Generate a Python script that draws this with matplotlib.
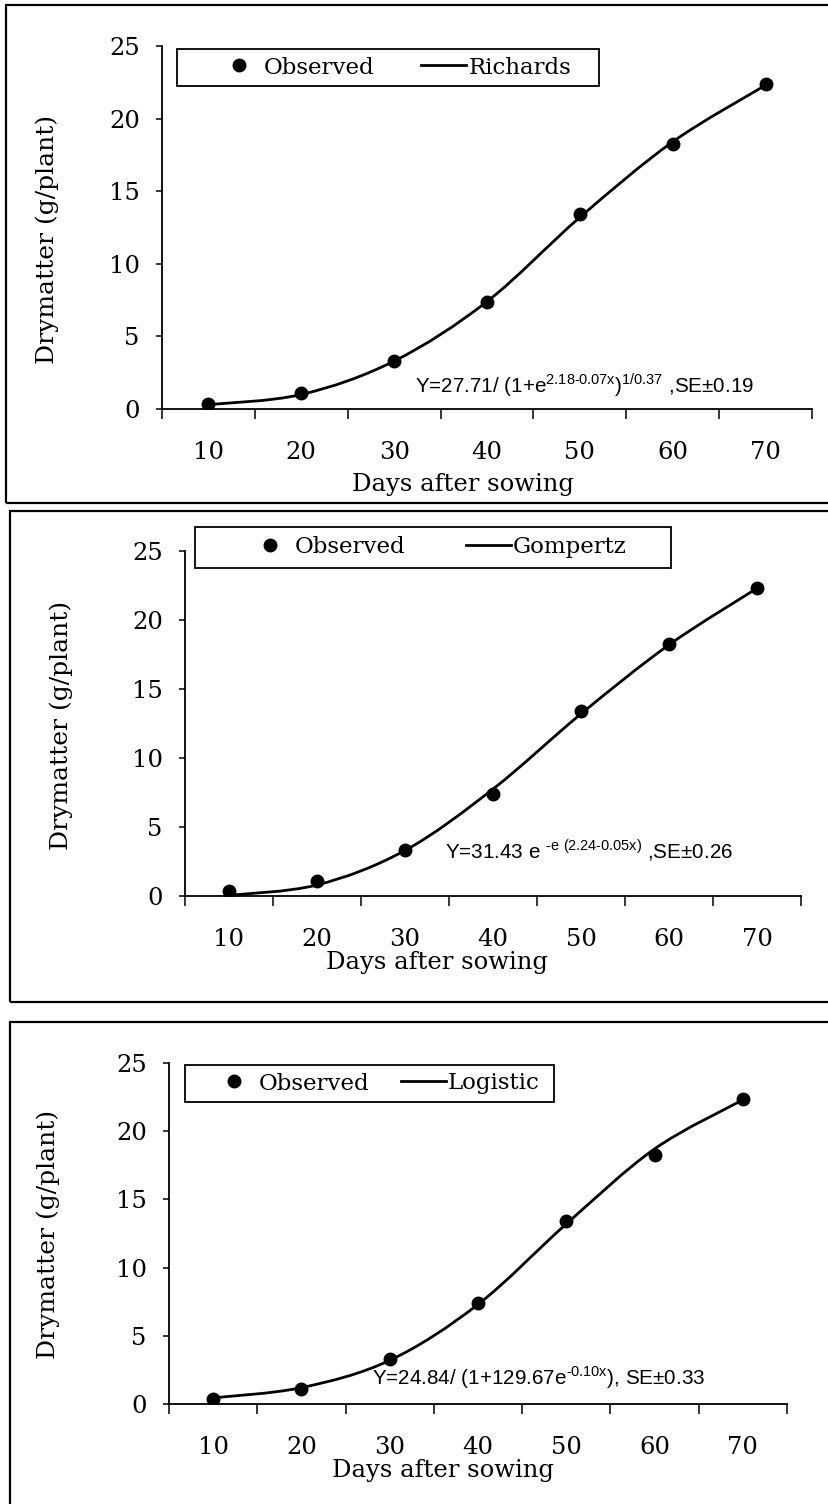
import matplotlib

matplotlib.use("Agg")
import matplotlib.pyplot as plt
from matplotlib.lines import Line2D
from matplotlib.patches import PathPatch, Rectangle
from matplotlib.path import Path

# data
days = [10, 20, 30, 40, 50, 60, 70]
observed = [0.35, 1.1, 3.3, 7.4, 13.4, 18.25, 22.35]
richards_fit = [0.3, 1.0, 3.3, 7.4, 13.2, 18.4, 22.3]
gompertz_fit = [0.05, 0.8, 3.3, 7.75, 13.2, 18.2, 22.3]
logistic_fit = [0.45, 1.2, 3.2, 7.3, 13.2, 18.7, 22.3]

model_names = ["Richards", "Gompertz", "Logistic"]
equations = [
    "Y=27.71/ (1+e$^{\\mathregular{2.18\u20100.07x}}$)$^{\\mathregular{1/ 0.37}}$ ,SE\u00b10.19",
    "Y=31.43 e $^{\\mathregular{\u2010e\\ (2.24\u20100.05x)}}$ ,SE\u00b10.26",
    "Y=24.84/ (1+129.67e$^{\\mathregular{\u20100.10x}}$), SE\u00b10.33",
]
fits = [richards_fit, gompertz_fit, logistic_fit]

W, H = 829, 1504
SERIF = ["DejaVu Serif"]
NARROW = ["Liberation Sans Narrow", "Liberation Sans", "DejaVu Sans"]

# pixel layout of each panel
layout = [
    dict(box=(6, 5, 900, 503), ax=(162, 812, 409, 46), leg=(177, 49, 599, 86),
         legx=(217, 571), eq=(415, 385), xlab=(463, 485), ylab=(47, 239)),
    dict(box=(10, 511, 900, 1002), ax=(185, 801, 896, 551), leg=(195, 527, 671, 568),
         legx=(248, 627), eq=(445, 850), xlab=(437, 963), ylab=(61, 725)),
    dict(box=(10, 1022, 900, 1600), ax=(169, 787, 1404, 1063), leg=(185, 1065, 554, 1102),
         legx=(212, 540), eq=(372, 1378), xlab=(443, 1470), ylab=(48, 1234)),
]


def fx(px):
    return px / W


def fy(py):
    return 1 - py / H


def smooth_path(xs, ys):
    # Catmull-Rom style cubic Bezier through the fitted values (Excel smoothing)
    pts = list(zip(xs, ys))
    verts = [pts[0]]
    codes = [Path.MOVETO]
    n = len(pts)
    for i in range(n - 1):
        p0 = pts[max(i - 1, 0)]
        p1 = pts[i]
        p2 = pts[i + 1]
        p3 = pts[min(i + 2, n - 1)]
        c1 = (p1[0] + (p2[0] - p0[0]) / 6, p1[1] + (p2[1] - p0[1]) / 6)
        c2 = (p2[0] - (p3[0] - p1[0]) / 6, p2[1] - (p3[1] - p1[1]) / 6)
        verts += [c1, c2, p2]
        codes += [Path.CURVE4] * 3
    return Path(verts, codes)


fig = plt.figure(figsize=(W / 100, H / 100), dpi=100)
pos = list(range(1, len(days) + 1))

for name, eq, fit, lay in zip(model_names, equations, fits, layout):
    bx0, by0, bx1, by1 = lay["box"]
    fig.patches.append(Rectangle((fx(bx0), fy(by1)), fx(bx1 - bx0), (by1 - by0) / H,
                                 transform=fig.transFigure, fill=False,
                                 edgecolor="black", lw=1.6, zorder=0))

    l, r, b, t = lay["ax"]
    ax = fig.add_axes([fx(l), fy(b), fx(r - l), (b - t) / H])
    ax.patch.set_alpha(0)

    ax.plot(pos, observed, "o", color="black", ms=9, zorder=3)
    ax.add_patch(PathPatch(smooth_path(pos, fit), fill=False, edgecolor="black",
                           lw=2.0, zorder=2))

    ax.set_xlim(0.5, len(days) + 0.5)
    ax.set_ylim(0, 25)
    for s in ("top", "right"):
        ax.spines[s].set_visible(False)
    for s in ("left", "bottom"):
        ax.spines[s].set_linewidth(1.3)

    ax.set_yticks([0, 5, 10, 15, 20, 25])
    ax.tick_params(axis="y", direction="out", length=4, width=1.1, pad=12,
                   labelsize=17.5)
    ax.set_xticks([p - 0.5 for p in pos] + [len(days) + 0.5])
    ax.set_xticklabels([])
    ax.tick_params(axis="x", which="major", direction="out", length=7, width=1.1)
    ax.set_xticks(pos, minor=True)
    ax.set_xticklabels([str(d) for d in days], minor=True)
    ax.tick_params(axis="x", which="minor", length=0, pad=23, labelsize=17.5)
    for lab in ax.get_xticklabels(minor=True) + ax.get_yticklabels():
        lab.set_family(SERIF)

    ax.set_xlabel("Days after sowing", family=SERIF, fontsize=17.5)
    ax.set_ylabel("Drymatter (g/plant)", family=SERIF, fontsize=18)
    xlx, xly = lay["xlab"]
    ax.xaxis.set_label_coords((xlx - l) / (r - l), (b - xly) / (b - t))
    ax.xaxis.label.set_va("center")
    ylx, yly = lay["ylab"]
    ax.yaxis.set_label_coords((ylx - l) / (r - l), (b - yly) / (b - t))
    ax.yaxis.label.set_va("center")

    # legend: frame drawn separately, entries spread across it
    lx0, ly0, lx1, ly1 = lay["leg"]
    fig.patches.append(Rectangle((fx(lx0), fy(ly1)), fx(lx1 - lx0), (ly1 - ly0) / H,
                                 transform=fig.transFigure, facecolor="white",
                                 edgecolor="black", lw=1.3, zorder=1))
    hx0, hx1 = lay["legx"]
    handles = [Line2D([], [], ls="none", marker="o", color="black", ms=9),
               Line2D([], [], color="black", lw=2.0)]
    fig.legend(handles, ["Observed", name], ncol=2, mode="expand", frameon=False,
               loc="center", bbox_to_anchor=(fx(hx0), fy(ly1), fx(hx1 - hx0), (ly1 - ly0) / H),
               borderpad=0, borderaxespad=0, handlelength=1.95, handletextpad=0.1,
               prop=dict(family=SERIF, size=16.5))

    ex, ey = lay["eq"]
    fig.text(fx(ex), fy(ey), eq, family=NARROW, fontsize=14.9, ha="left", va="center")

fig.savefig("out.png", dpi=100)
